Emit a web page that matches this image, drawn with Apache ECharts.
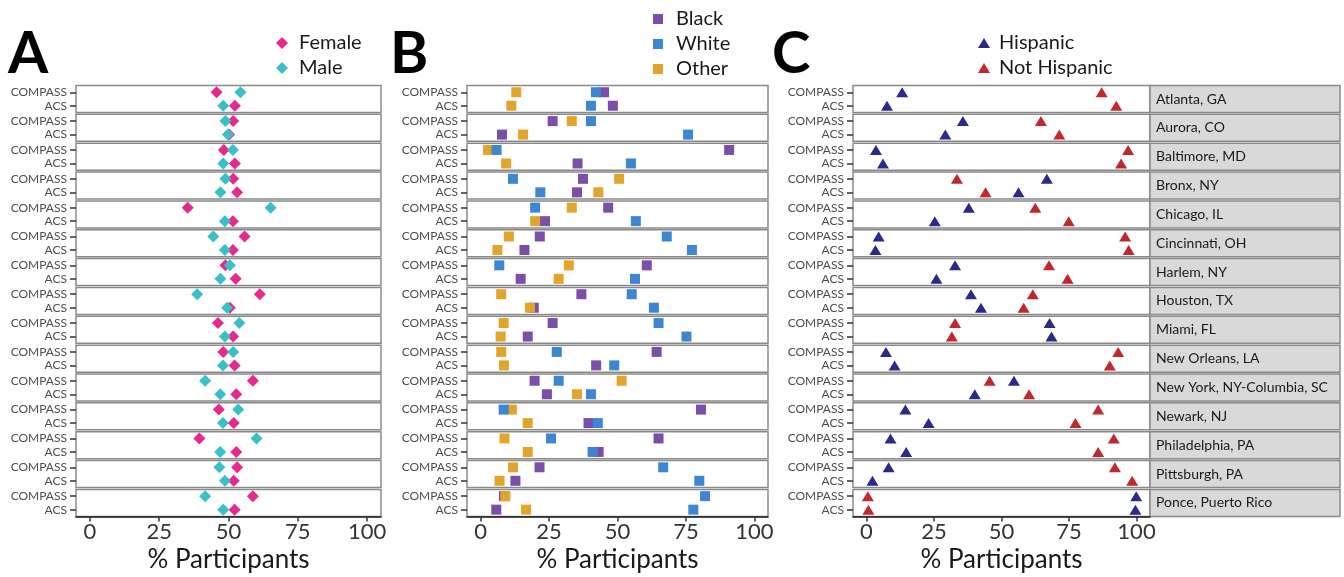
<!DOCTYPE html>
<html>
<head>
<meta charset="utf-8">
<script src="https://cdn.jsdelivr.net/npm/echarts@6/dist/echarts.min.js"></script>
<style>html,body{margin:0;padding:0;background:#fff}#c{width:1344px;height:577px}</style>
</head>
<body>
<div id="c"></div>
<script>
// ---------- DATA ----------
const cities = ['Atlanta, GA','Aurora, CO','Baltimore, MD','Bronx, NY','Chicago, IL','Cincinnati, OH','Harlem, NY','Houston, TX','Miami, FL','New Orleans, LA','New York, NY-Columbia, SC','Newark, NJ','Philadelphia, PA','Pittsburgh, PA','Ponce, Puerto Rico'];
const rowLabels = ['COMPASS','ACS'];
const xTicks = [0,25,50,75,100];

// Panel A: sex
const femaleCompass = [45.7,51.7,48.3,51.7,35.3,55.8,48.9,61.3,46.2,48.1,58.8,46.5,39.5,53.1,58.8];
const femaleAcs     = [52.3,50.2,52.3,53.1,51.6,51.6,52.6,50.5,51.7,52.2,52.8,51.9,52.8,51.9,52.2];
const maleCompass   = [54.3,48.9,51.6,48.9,65.2,44.5,50.5,38.7,53.9,51.7,41.6,53.5,60.1,46.7,41.6];
const maleAcs       = [48.1,49.8,48.1,47.1,48.7,48.7,47.1,49.5,48.7,48.0,47.0,48.0,47.0,48.7,48.1];

// Panel B: race
const blackCompass = [45.1,26.3,90.8,37.4,46.6,21.6,60.7,36.8,26.3,64.3,19.7,80.5,65.0,21.5,8.5];
const blackAcs     = [48.3,7.8,35.4,35.2,23.5,16.0,14.6,19.4,17.2,42.2,24.2,39.4,43.1,12.7,5.7];
const whiteCompass = [42.1,40.3,5.8,11.8,19.9,68.0,6.8,55.2,65.0,27.8,28.5,8.4,25.7,66.7,82.0];
const whiteAcs     = [40.3,75.8,54.9,21.8,56.7,77.2,56.4,63.3,75.2,48.8,40.3,42.8,40.9,79.9,77.7];
const otherCompass = [13.0,33.3,2.7,50.6,33.3,10.3,32.2,7.5,8.4,7.5,51.5,11.4,8.7,11.8,9.0];
const otherAcs     = [11.2,15.5,9.3,43.0,19.9,6.1,28.5,18.0,7.3,8.5,35.2,17.2,17.2,6.9,16.6];

// Panel C: ethnicity
const hispCompass    = [13.2,35.7,3.5,66.8,37.9,4.5,32.8,38.7,67.8,7.2,54.6,14.4,8.9,8.2,99.9];
const hispAcs        = [7.6,29.2,6.1,56.3,25.3,3.3,25.9,42.4,68.5,10.4,40.1,23.0,14.7,2.2,99.6];
const notHispCompass = [87.1,64.6,96.9,33.5,62.5,95.8,67.6,61.6,32.8,93.2,45.6,85.8,91.6,92.0,0.5];
const notHispAcs     = [92.5,71.4,94.3,44.1,74.9,97.1,74.5,58.2,31.6,90.1,60.2,77.4,85.8,98.4,0.7];

// ---------- LAYOUT / STYLE ----------
const FONT = 'Lato';
const facetTop0 = 85.5, facetPitch = 28.85, facetH = 27;
const panels = [
  { left: 76,  width: 305, letter: 'A', letterX: 8,
    groups: [
      { name: 'Female', color: '#E8288C', symbol: 'diamond', size: 12, c: femaleCompass, a: femaleAcs },
      { name: 'Male',   color: '#38C0C8', symbol: 'diamond', size: 12, c: maleCompass,   a: maleAcs }
    ],
    legendOrder: ['Female','Male'], legendLeft: 271, legendTop: 28, icon: 'diamond', iw: 12, ih: 12, pad: 6 },
  { left: 467, width: 301, letter: 'B', letterX: 390,
    groups: [
      { name: 'Black', color: '#7B4EA8', symbol: 'rect', size: 10, c: blackCompass, a: blackAcs },
      { name: 'Other', color: '#E2A52B', symbol: 'rect', size: 10, c: otherCompass, a: otherAcs },
      { name: 'White', color: '#3D86D2', symbol: 'rect', size: 10, c: whiteCompass, a: whiteAcs }
    ],
    legendOrder: ['Black','White','Other'], legendLeft: 648, legendTop: 4, icon: 'rect', iw: 10, ih: 10, pad: 8 },
  { left: 853, width: 297, letter: 'C', letterX: 772,
    groups: [
      { name: 'Hispanic',     color: '#2A2A8A', symbol: 'triangle', size: [12,10], c: hispCompass,    a: hispAcs },
      { name: 'Not Hispanic', color: '#C0282D', symbol: 'triangle', size: [12,10], c: notHispCompass, a: notHispAcs }
    ],
    legendOrder: ['Hispanic','Not Hispanic'], legendLeft: 973, legendTop: 28, icon: 'triangle', iw: 12, ih: 10, pad: 4 }
];

const grid = [], xAxis = [], yAxis = [], series = [], legend = [], graphic = [];
let g = 0;
panels.forEach((p, pi) => {
  cities.forEach((city, i) => {
    const top = facetTop0 + i * facetPitch;
    const last = i === cities.length - 1;
    grid.push({ left: p.left, width: p.width, top: top, height: facetH, show: true,
      backgroundColor: '#fff', borderColor: '#8a8a8a', borderWidth: 1.5, containLabel: false });
    xAxis.push({ type: 'value', gridIndex: g, min: -5, max: 105,
      splitLine: { show: false },
      axisLine: { show: last, onZero: false, lineStyle: { color: '#1a1a1a', width: 1.5 } },
      axisTick: { show: last, length: 5, customValues: xTicks, lineStyle: { color: '#333', width: 1.5 } },
      axisLabel: { show: last, customValues: xTicks, fontSize: 22, color: '#333', margin: 5, fontFamily: FONT },
      name: last ? '% Participants' : '', nameLocation: 'middle', nameGap: 30,
      nameTextStyle: { fontSize: 26, color: '#1a1a1a', fontFamily: FONT } });
    yAxis.push({ type: 'category', gridIndex: g, data: rowLabels, inverse: true,
      axisLine: { show: false, onZero: false },
      axisTick: { show: true, interval: 0, alignWithLabel: true, length: 6, lineStyle: { color: '#333', width: 1.5 } },
      axisLabel: { interval: 0, fontSize: 12, color: '#4d4d4d', margin: 9, fontFamily: FONT, hideOverlap: false },
      splitLine: { show: false } });
    p.groups.forEach(gr => {
      series.push({ type: 'scatter', name: gr.name, xAxisIndex: g, yAxisIndex: g,
        symbol: gr.symbol, symbolSize: gr.size, itemStyle: { color: gr.color, opacity: 1 },
        data: [[gr.c[i], rowLabels[0]], [gr.a[i], rowLabels[1]]], z: 3 });
    });
    if (pi === 2) {
      graphic.push({ type: 'rect', shape: { x: 1150, y: top, width: 190, height: facetH },
        style: { fill: '#d9d9d9', stroke: '#8a8a8a', lineWidth: 1.5 } });
      graphic.push({ type: 'text', x: 1156, y: top + facetH / 2,
        style: { text: city, fill: '#1a1a1a', font: '14px ' + FONT, verticalAlign: 'middle', align: 'left' } });
    }
    g++;
  });
  legend.push({ data: p.legendOrder, orient: 'vertical', left: p.legendLeft, top: p.legendTop,
    icon: p.icon, itemWidth: p.iw, itemHeight: p.ih, itemGap: 5, selectedMode: false,
    textStyle: { fontSize: 20, color: '#1a1a1a', fontFamily: FONT, lineHeight: 19, padding: [0,0,0,p.pad] } });
  graphic.push({ type: 'text', x: p.letterX, y: 54,
    style: { text: p.letter, fill: '#000', font: 'bold 58px ' + FONT, verticalAlign: 'middle', align: 'left' } });
});

const chart = echarts.init(document.getElementById('c'), null, { renderer: 'canvas' });
chart.setOption({
  animation: false,
  backgroundColor: '#fff',
  textStyle: { fontFamily: FONT },
  grid, xAxis, yAxis, series, legend, graphic
});
</script>
</body>
</html>
